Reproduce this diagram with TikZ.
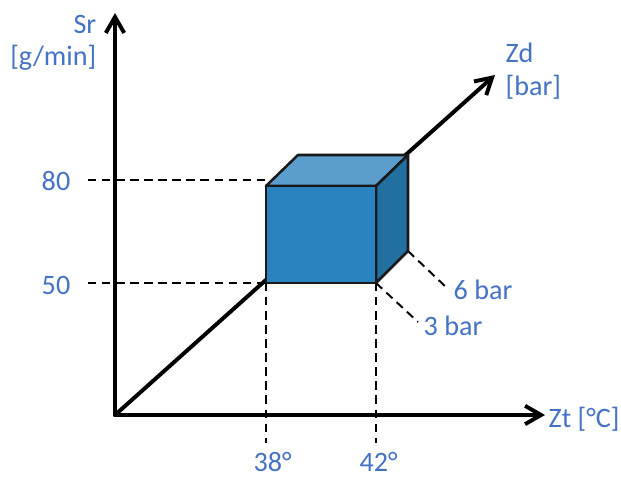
\documentclass[tikz,border=0pt]{standalone}
\usepackage{fontspec}
\setmainfont{Carlito}
\usepackage{xcolor}
\usetikzlibrary{positioning,arrows.meta}
\definecolor{lblblue}{RGB}{68,114,196}
\definecolor{cubefront}{RGB}{41,131,193}
\definecolor{cubetop}{RGB}{91,157,205}
\definecolor{cubeside}{RGB}{33,112,160}

\begin{document}
\begin{tikzpicture}[x=0.025cm, y=-0.025cm,
  axis/.style={line width=2.8pt, line cap=round, -{Straight Barb[length=4mm,width=4.6mm]}},
  guide/.style={line width=1.4pt, dash pattern=on 6pt off 4pt},
  face/.style={draw=black!90, line width=1.8pt, line join=round},
  lbl/.style={text=lblblue, font=\fontsize{20}{24}\selectfont, inner sep=1pt}]
  \useasboundingbox (0,0) rectangle (621,477);
  % axes end points
  \coordinate (orig)  at (115,415);
  \coordinate (srtip) at (115,13);
  \coordinate (zttip) at (545,415);
  \coordinate (zdtip) at (495,75);
  % the cube
  \coordinate (fbl) at (266,283);
  \coordinate (fbr) at (376,283);
  \coordinate (ftr) at (376,186);
  \coordinate (ftl) at (266,186);
  \coordinate (btl) at (298,155);
  \coordinate (btr) at (408,155);
  \coordinate (bbr) at (408,251);
  % ends of the guides
  \coordinate (g80)  at (88,180);
  \coordinate (g50)  at (88,283);
  \coordinate (g38)  at (266,443);
  \coordinate (g42)  at (376,443);
  \coordinate (g3b)  at (418,322);
  \coordinate (g6b)  at (447,288);

  \draw[axis] (orig) -- (srtip);
  \draw[axis] (orig) -- (zttip);
  \draw[guide] (g80) -- (g80 -| ftl);
  \draw[guide] (g50) -- (fbl);
  \draw[guide] (fbl) -- (g38);
  \draw[guide] (fbr) -- (g42);
  \draw[guide] (fbr) -- (g3b);
  \draw[guide] (bbr) -- (g6b);
  \draw[axis] (orig) -- (zdtip);
  \draw[face, fill=cubetop]   (ftl) -- (btl) -- (btr) -- (ftr) -- cycle;
  \draw[face, fill=cubeside]  (ftr) -- (btr) -- (bbr) -- (fbr) -- cycle;
  \draw[face, fill=cubefront] (fbl) rectangle (ftr);

  % labels
  \node[lbl, anchor=east] (srname) at (98,24) {Sr};
  \node[lbl, anchor=east] (srunit) at (98,58) {[g/min]};
  \node[lbl, anchor=west] (zdname) at (504,53) {Zd};
  \node[lbl, anchor=west] (zdunit) at (504,87) {[bar]};
  \node[lbl, anchor=west] (ztname) at (547,419) {Zt [°C]};
  \node[lbl] (v80) at (56,181) {80};
  \node[lbl] (v50) at (56,285) {50};
  \node[lbl, anchor=west] (v38) at (252,462) {38°};
  \node[lbl, anchor=west] (v42) at (358,462) {42°};
  \node[lbl, anchor=west] (v6b) at (452,290) {6 bar};
  \node[lbl, anchor=west] (v3b) at (422,326) {3 bar};
\end{tikzpicture}
\end{document}
